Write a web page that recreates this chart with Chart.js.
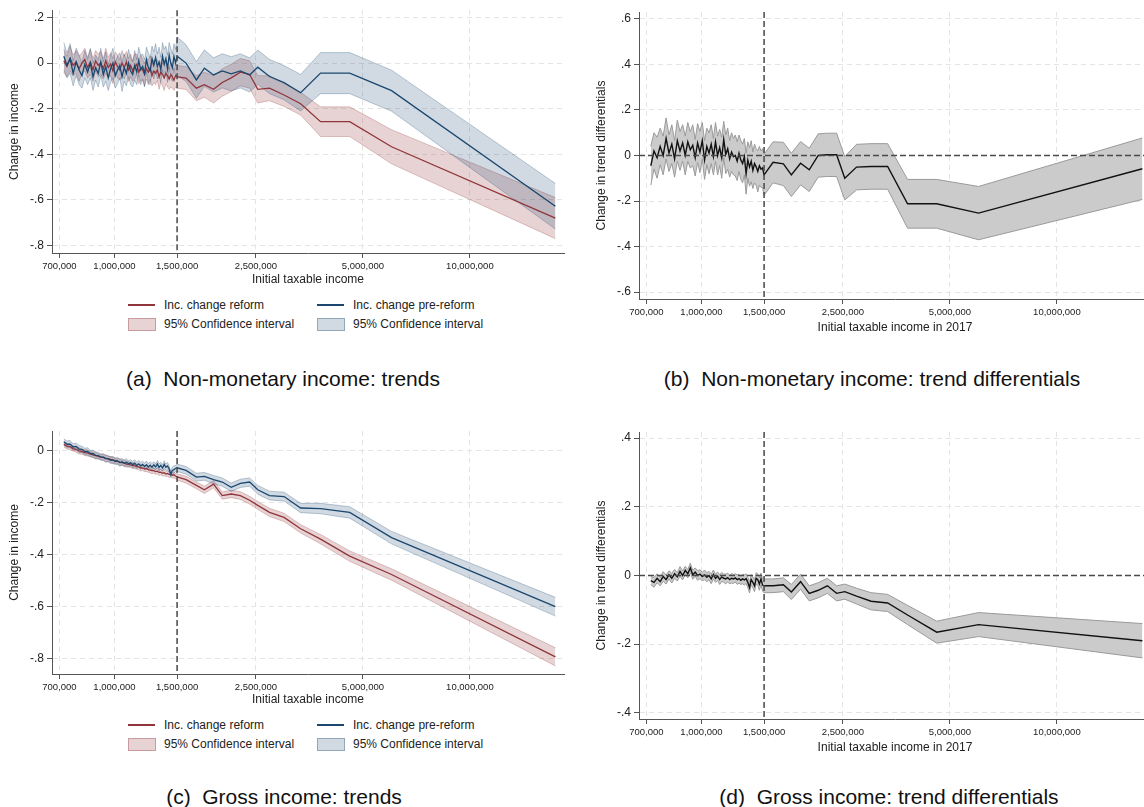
<!DOCTYPE html>
<html>
<head>
<meta charset="utf-8">
<script src="https://cdn.jsdelivr.net/npm/chart.js@4.4.1/dist/chart.umd.min.js"></script>
<style>
  html, body { margin: 0; padding: 0; background: #fff; width: 1144px; height: 807px; overflow: hidden; }
  body { position: relative; font-family: "Liberation Sans", Arial, sans-serif; color: #222; }
  canvas { position: absolute; }
  .cap { position: absolute; font-size: 21px; white-space: nowrap; transform: translate(-50%, -50%); color: #111; }
  .lg { position: absolute; font-size: 12px; white-space: nowrap; transform: translateY(-50%); }
  .ln { position: absolute; height: 2px; width: 27px; }
  .bx { position: absolute; height: 11px; width: 26px; }
</style>
</head>
<body>
<canvas id="pa" width="575" height="290" style="left:0;top:0"></canvas>
<canvas id="pb" width="575" height="345" style="left:587px;top:0"></canvas>
<canvas id="pc" width="575" height="290" style="left:0;top:420px"></canvas>
<canvas id="pd" width="575" height="345" style="left:587px;top:420px"></canvas>

<div id="legA"></div>
<div id="legC"></div>

<div class="cap" style="left:283px;top:379px">(a)&nbsp; Non-monetary income: trends</div>
<div class="cap" style="left:872px;top:379px">(b)&nbsp; Non-monetary income: trend differentials</div>
<div class="cap" style="left:284px;top:797px">(c)&nbsp; Gross income: trends</div>
<div class="cap" style="left:889px;top:797px">(d)&nbsp; Gross income: trend differentials</div>

<script>
// income bins (initial taxable income)
const income = [720000, 735000, 750000, 765000, 780000, 795000, 810000, 825000, 840000, 855000, 870000, 885000, 900000,
  915000, 930000, 945000, 960000, 975000, 990000, 1005000, 1020000, 1035000, 1050000, 1065000, 1080000, 1095000,
  1110000, 1125000, 1140000, 1155000, 1170000, 1185000, 1200000, 1215000, 1230000, 1245000, 1260000, 1275000, 1290000,
  1305000, 1320000, 1335000, 1350000, 1365000, 1380000, 1395000, 1410000, 1425000, 1440000, 1455000, 1470000, 1485000,
  1500000, 1590000, 1700000, 1790000, 1900000, 2010000, 2130000, 2260000, 2400000, 2530000,
  2730000, 3000000, 3340000, 3800000, 4590000, 6020000, 17400000];

// (a) non-monetary income, reform / pre-reform, with CI half widths
const nmReform = [0.01, -0.015, 0.02, -0.01, 0.005, -0.025, 0.0, 0.015, -0.02, 0.005, -0.03, 0.01, -0.01,
  0.0, -0.025, 0.01, -0.02, -0.005, -0.035, 0.005, -0.015, -0.03, 0.0, -0.02, 0.005, -0.03,
  -0.01, -0.035, -0.015, -0.005, -0.04, -0.02, -0.03, -0.05, -0.025, -0.04, -0.02, -0.055, -0.035,
  -0.045, -0.03, -0.06, -0.04, -0.05, -0.065, -0.045, -0.055, -0.07, -0.05, -0.06, -0.075, -0.055,
  -0.06, -0.066, -0.11, -0.095, -0.115, -0.085, -0.065, -0.04, -0.05, -0.115,
  -0.11, -0.14, -0.178, -0.257, -0.257, -0.367, -0.68];
const nmReformCI = [0.05, 0.045, 0.055, 0.045, 0.05, 0.055, 0.045, 0.05, 0.045, 0.055, 0.05, 0.045, 0.05,
  0.05, 0.045, 0.055, 0.045, 0.05, 0.055, 0.045, 0.05, 0.045, 0.055, 0.05, 0.045, 0.05,
  0.05, 0.045, 0.055, 0.045, 0.05, 0.055, 0.045, 0.05, 0.045, 0.055, 0.05, 0.045, 0.05,
  0.05, 0.045, 0.055, 0.045, 0.05, 0.055, 0.045, 0.05, 0.045, 0.055, 0.05, 0.045, 0.05,
  0.05, 0.05, 0.055, 0.055, 0.06, 0.06, 0.06, 0.06, 0.06, 0.06,
  0.055, 0.05, 0.05, 0.065, 0.065, 0.075, 0.09];
const nmPre = [0.03, -0.01, 0.02, -0.045, 0.005, -0.03, -0.055, -0.005, -0.04, 0.0, -0.06, -0.02, -0.045,
  0.005, -0.05, -0.015, -0.065, -0.025, 0.0, -0.055, -0.03, -0.01, -0.06, -0.02, -0.045, 0.0,
  -0.035, -0.05, -0.01, -0.04, 0.01, -0.03, -0.015, -0.045, 0.015, -0.02, -0.035, 0.02, -0.01,
  0.025, -0.015, 0.005, -0.03, 0.03, -0.005, 0.02, -0.025, 0.035, 0.0, -0.02, 0.03, 0.0,
  0.03, 0.0, -0.074, -0.022, -0.052, -0.034, -0.047, -0.034, -0.052, -0.018,
  -0.059, -0.086, -0.13, -0.044, -0.044, -0.121, -0.628];
const nmPreCI = [0.06, 0.055, 0.065, 0.055, 0.06, 0.065, 0.055, 0.06, 0.055, 0.065, 0.06, 0.055, 0.06,
  0.06, 0.055, 0.065, 0.055, 0.06, 0.065, 0.055, 0.06, 0.055, 0.065, 0.06, 0.055, 0.06,
  0.06, 0.055, 0.065, 0.055, 0.06, 0.065, 0.055, 0.06, 0.055, 0.065, 0.06, 0.055, 0.06,
  0.06, 0.055, 0.065, 0.055, 0.06, 0.065, 0.055, 0.06, 0.055, 0.065, 0.06, 0.055, 0.06,
  0.085, 0.08, 0.08, 0.08, 0.075, 0.075, 0.075, 0.075, 0.075, 0.075,
  0.075, 0.075, 0.08, 0.09, 0.09, 0.09, 0.1];

// (b) non-monetary trend differential
const nmDiff = [-0.045, 0.02, -0.01, 0.04, 0.0, 0.075, 0.01, 0.05, -0.015, 0.065, 0.02, 0.055, 0.0,
  0.06, 0.025, 0.045, -0.01, 0.055, 0.015, 0.065, -0.02, 0.04, 0.01, 0.05, -0.005, 0.06,
  0.0, 0.035, -0.01, 0.07, 0.005, 0.03, -0.015, 0.015, -0.005, 0.0, -0.025, 0.01, -0.02,
  -0.035, -0.005, -0.08, -0.02, -0.05, -0.025, -0.065, -0.035, -0.05, -0.07, -0.045, -0.06, -0.055,
  -0.085, -0.03, -0.037, -0.085, -0.034, -0.063, 0.0, 0.003, 0.003, -0.1,
  -0.051, -0.048, -0.048, -0.212, -0.212, -0.253, -0.058];
const nmDiffCI = [0.085, 0.08, 0.09, 0.08, 0.085, 0.09, 0.08, 0.085, 0.08, 0.09, 0.085, 0.08, 0.085,
  0.085, 0.08, 0.09, 0.08, 0.085, 0.09, 0.08, 0.085, 0.08, 0.09, 0.085, 0.08, 0.085,
  0.085, 0.08, 0.09, 0.08, 0.085, 0.09, 0.08, 0.085, 0.08, 0.09, 0.085, 0.08, 0.085,
  0.085, 0.08, 0.09, 0.08, 0.085, 0.09, 0.08, 0.085, 0.08, 0.09, 0.085, 0.08, 0.085,
  0.09, 0.09, 0.095, 0.095, 0.095, 0.095, 0.095, 0.095, 0.095, 0.095,
  0.1, 0.1, 0.1, 0.107, 0.107, 0.117, 0.135];

// (c) gross income, reform / pre-reform
const grReform = [0.025, 0.018, 0.016, 0.009, 0.006, 0.0, -0.003, -0.007, -0.008, -0.013, -0.015, -0.018, -0.021,
  -0.024, -0.025, -0.029, -0.031, -0.033, -0.036, -0.038, -0.04, -0.044, -0.045, -0.047, -0.051, -0.052,
  -0.054, -0.057, -0.057, -0.061, -0.062, -0.065, -0.066, -0.069, -0.068, -0.072, -0.074, -0.076, -0.076,
  -0.08, -0.078, -0.083, -0.082, -0.086, -0.084, -0.089, -0.087, -0.091, -0.089, -0.094, -0.092, -0.097,
  -0.1, -0.111, -0.133, -0.15, -0.128, -0.172, -0.166, -0.172, -0.19, -0.21,
  -0.237, -0.256, -0.3, -0.34, -0.405, -0.476, -0.793];
const grReformCI = [0.01, 0.011, 0.012, 0.01, 0.011, 0.012, 0.01, 0.011, 0.012, 0.01, 0.011, 0.012, 0.01,
  0.01, 0.011, 0.012, 0.01, 0.011, 0.012, 0.01, 0.011, 0.012, 0.01, 0.011, 0.012, 0.01,
  0.01, 0.011, 0.012, 0.01, 0.011, 0.012, 0.01, 0.011, 0.012, 0.01, 0.011, 0.012, 0.01,
  0.01, 0.011, 0.012, 0.01, 0.011, 0.012, 0.01, 0.011, 0.012, 0.01, 0.011, 0.012, 0.01,
  0.012, 0.013, 0.013, 0.014, 0.014, 0.014, 0.014, 0.015, 0.015, 0.015,
  0.016, 0.016, 0.016, 0.018, 0.02, 0.022, 0.035];
const grPre = [0.035, 0.025, 0.026, 0.015, 0.017, 0.007, 0.006, -0.003, -0.002, -0.01, -0.011, -0.017, -0.018,
  -0.024, -0.024, -0.03, -0.03, -0.036, -0.035, -0.04, -0.039, -0.045, -0.042, -0.048, -0.044, -0.05,
  -0.046, -0.053, -0.048, -0.056, -0.05, -0.058, -0.052, -0.06, -0.053, -0.062, -0.055, -0.063, -0.054,
  -0.062, -0.05, -0.064, -0.056, -0.066, -0.052, -0.063, -0.058, -0.07, -0.09, -0.075, -0.072, -0.068,
  -0.065, -0.075, -0.101, -0.098, -0.111, -0.12, -0.14, -0.125, -0.12, -0.15,
  -0.172, -0.176, -0.22, -0.222, -0.237, -0.334, -0.6];
const grPreCI = [0.012, 0.013, 0.014, 0.012, 0.013, 0.014, 0.012, 0.013, 0.014, 0.012, 0.013, 0.014, 0.012,
  0.012, 0.013, 0.014, 0.012, 0.013, 0.014, 0.012, 0.013, 0.014, 0.012, 0.013, 0.014, 0.012,
  0.012, 0.013, 0.014, 0.012, 0.013, 0.014, 0.012, 0.013, 0.014, 0.012, 0.013, 0.014, 0.012,
  0.012, 0.013, 0.014, 0.012, 0.013, 0.014, 0.012, 0.013, 0.014, 0.012, 0.013, 0.014, 0.012,
  0.014, 0.015, 0.015, 0.015, 0.016, 0.016, 0.016, 0.016, 0.016, 0.017,
  0.017, 0.017, 0.018, 0.02, 0.022, 0.024, 0.036];

// (d) gross trend differential
const grDiff = [-0.015, -0.02, -0.008, -0.018, -0.003, -0.012, 0.002, -0.008, 0.005, -0.004, 0.012, 0.0, 0.015,
  0.005, 0.022, 0.002, 0.01, 0.0, 0.004, -0.003, 0.002, -0.005, 0.0, -0.01, 0.003, -0.008,
  -0.002, -0.012, -0.004, -0.008, -0.01, -0.006, -0.012, -0.008, -0.01, -0.007, -0.012, -0.009, -0.014,
  -0.01, -0.013, -0.009, -0.02, -0.035, -0.012, -0.02, -0.03, -0.008, -0.012, -0.025, -0.01, -0.028,
  -0.03, -0.03, -0.027, -0.048, -0.018, -0.052, -0.043, -0.03, -0.052, -0.047,
  -0.06, -0.075, -0.08, -0.115, -0.165, -0.143, -0.19];
const grDiffCI = [0.012, 0.014, 0.013, 0.012, 0.014, 0.013, 0.012, 0.014, 0.013, 0.012, 0.014, 0.013, 0.012,
  0.012, 0.014, 0.013, 0.012, 0.014, 0.013, 0.012, 0.014, 0.013, 0.012, 0.014, 0.013, 0.012,
  0.012, 0.014, 0.013, 0.012, 0.014, 0.013, 0.012, 0.014, 0.013, 0.012, 0.014, 0.013, 0.012,
  0.014, 0.015, 0.014, 0.015, 0.016, 0.015, 0.016, 0.017, 0.016, 0.017, 0.018, 0.017, 0.018,
  0.02, 0.02, 0.02, 0.022, 0.022, 0.022, 0.022, 0.022, 0.022, 0.022,
  0.023, 0.025, 0.025, 0.028, 0.032, 0.035, 0.05];

const xTicks = [700000, 1000000, 1500000, 2500000, 5000000, 10000000];
const threshold = 1500000;
const xMin = 667000, xMax = 18400000;

const navy = 'rgb(26,71,111)';
const maroon = 'rgb(144,53,59)';
const navyFill = 'rgba(26,71,111,0.2)';
const maroonFill = 'rgba(144,53,59,0.22)';
const navyEdge = 'rgba(26,71,111,0.35)';
const maroonEdge = 'rgba(144,53,59,0.35)';

const pts = ys => income.map((x, i) => ({ x: x, y: ys[i] }));
const edge = (ys, hw, s) => income.map((x, i) => ({ x: x, y: ys[i] + s * hw[i] }));
const fmtY = v => v === 0 ? '0' : v.toFixed(1).replace('0.', '.');

// dashed reference lines (income threshold, and zero for differentials)
const refLines = {
  id: 'refLines',
  afterDatasetsDraw(chart, args, opts) {
    const { ctx, chartArea: a, scales: { x, y } } = chart;
    ctx.save();
    ctx.strokeStyle = '#4a4a4a';
    ctx.lineWidth = 1.5;
    ctx.setLineDash([6, 3]);
    if (opts.zero) {
      const py = y.getPixelForValue(0);
      ctx.beginPath(); ctx.moveTo(a.left, py); ctx.lineTo(a.right, py); ctx.stroke();
    }
    const px = x.getPixelForValue(threshold);
    ctx.beginPath(); ctx.moveTo(px, a.top); ctx.lineTo(px, a.bottom); ctx.stroke();
    ctx.restore();
  }
};

function scales(yMin, yMax, yTicks, yTitle, xTitle, xH, titlePad) {
  const grid = { color: '#e4e4e4', lineWidth: 1, tickColor: '#555', tickLength: 5, tickBorderDash: [] };
  const border = { display: true, color: '#555', width: 1, dash: [5, 4] };
  return {
    x: {
      type: 'logarithmic', min: xMin, max: xMax,
      afterBuildTicks: s => { s.ticks = xTicks.map(v => ({ value: v })); },
      afterFit: s => { s.height = xH; },
      ticks: { autoSkip: false, maxRotation: 0, minRotation: 0, color: '#222', padding: 3,
        font: { size: 9.5 }, callback: v => Number(v).toLocaleString('en-US') },
      grid: grid, border: border,
      title: { display: true, text: xTitle, color: '#222', font: { size: 12 }, padding: { top: 0, bottom: titlePad } }
    },
    y: {
      min: yMin, max: yMax,
      afterBuildTicks: s => { s.ticks = yTicks.map(v => ({ value: v })); },
      afterFit: s => { s.width = 52; },
      ticks: { color: '#222', padding: 3, font: { size: 12 }, callback: fmtY },
      grid: grid, border: border,
      title: { display: true, text: yTitle, color: '#222', font: { size: 12 }, padding: { top: 7, bottom: 0 } }
    }
  };
}

function trendChart(id, reform, reformCI, pre, preCI, yMin, yMax, yTicks, topPad) {
  new Chart(document.getElementById(id), {
    type: 'line',
    data: {
      datasets: [
        { data: edge(reform, reformCI, -1), borderColor: maroonEdge, borderWidth: 0.8, pointRadius: 0, fill: false, order: 3 },
        { data: edge(reform, reformCI, 1), borderColor: maroonEdge, borderWidth: 0.8, pointRadius: 0, fill: '-1', backgroundColor: maroonFill, order: 3 },
        { data: edge(pre, preCI, -1), borderColor: navyEdge, borderWidth: 0.8, pointRadius: 0, fill: false, order: 2 },
        { data: edge(pre, preCI, 1), borderColor: navyEdge, borderWidth: 0.8, pointRadius: 0, fill: '-1', backgroundColor: navyFill, order: 2 },
        { data: pts(reform), borderColor: maroon, borderWidth: 1.3, pointRadius: 0, fill: false, order: 1 },
        { data: pts(pre), borderColor: navy, borderWidth: 1.3, pointRadius: 0, fill: false, order: 0 }
      ]
    },
    options: {
      responsive: false, animation: false, events: [],
      layout: { padding: { left: 0, right: 11, top: topPad, bottom: 0 } },
      plugins: { legend: { display: false }, tooltip: { enabled: false }, refLines: { zero: false } },
      scales: scales(yMin, yMax, yTicks, 'Change in income', 'Initial taxable income', 290 - 243 - topPad, 3)
    },
    plugins: [refLines]
  });
}

function diffChart(id, diff, diffCI, yMin, yMax, yTicks) {
  new Chart(document.getElementById(id), {
    type: 'line',
    data: {
      datasets: [
        { data: edge(diff, diffCI, -1), borderColor: '#9a9a9a', borderWidth: 1, pointRadius: 0, fill: false, order: 2 },
        { data: edge(diff, diffCI, 1), borderColor: '#9a9a9a', borderWidth: 1, pointRadius: 0, fill: '-1', backgroundColor: '#cbcbcb', order: 2 },
        { data: pts(diff), borderColor: '#111', borderWidth: 1.4, pointRadius: 0, fill: false, order: 0 }
      ]
    },
    options: {
      responsive: false, animation: false, events: [],
      layout: { padding: { left: 0, right: 11, top: 12, bottom: 0 } },
      plugins: { legend: { display: false }, tooltip: { enabled: false }, refLines: { zero: true } },
      scales: scales(yMin, yMax, yTicks, 'Change in trend differentials', 'Initial taxable income in 2017', 46, 10)
    },
    plugins: [refLines]
  });
}

trendChart('pa', nmReform, nmReformCI, nmPre, nmPreCI, -0.833, 0.232, [-0.8, -0.6, -0.4, -0.2, 0, 0.2], 10);
diffChart('pb', nmDiff, nmDiffCI, -0.63, 0.63, [-0.6, -0.4, -0.2, 0, 0.2, 0.4, 0.6]);
trendChart('pc', grReform, grReformCI, grPre, grPreCI, -0.859, 0.0765, [-0.8, -0.6, -0.4, -0.2, 0], 11);
diffChart('pd', grDiff, grDiffCI, -0.418, 0.418, [-0.4, -0.2, 0, 0.2, 0.4]);

// legends for the trend panels
function legend(el, top) {
  const items = [
    { kind: 'ln', color: maroon, left: 128, y: 305, text: 'Inc. change reform' },
    { kind: 'ln', color: navy, left: 317, y: 305, text: 'Inc. change pre-reform' },
    { kind: 'bx', color: maroonFill, border: maroonEdge, left: 128, y: 324, text: '95% Confidence interval' },
    { kind: 'bx', color: navyFill, border: navyEdge, left: 317, y: 324, text: '95% Confidence interval' }
  ];
  let html = '';
  items.forEach(it => {
    if (it.kind === 'ln') {
      html += '<div class="ln" style="left:' + it.left + 'px;top:' + (top + it.y - 1) + 'px;background:' + it.color + '"></div>';
    } else {
      html += '<div class="bx" style="left:' + it.left + 'px;top:' + (top + it.y - 6) + 'px;background:' + it.color + ';border:1px solid ' + it.border + '"></div>';
    }
    html += '<div class="lg" style="left:' + (it.left + 36) + 'px;top:' + (top + it.y) + 'px">' + it.text + '</div>';
  });
  document.getElementById(el).innerHTML = html;
}
legend('legA', 0);
legend('legC', 420);
</script>
</body>
</html>
